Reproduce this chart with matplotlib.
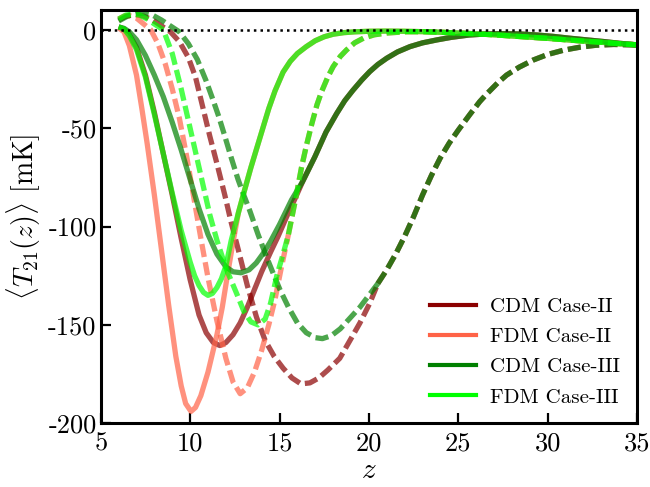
"""Mean 21-cm brightness temperature vs redshift for CDM/FDM, Case-II and Case-III."""

import numpy as np
import matplotlib
matplotlib.use("Agg")
import matplotlib.pyplot as plt
from matplotlib.lines import Line2D

plt.rcParams["font.family"] = "serif"
plt.rcParams["font.serif"] = ["cmr10"]
plt.rcParams["mathtext.fontset"] = "cm"
plt.rcParams["axes.unicode_minus"] = False
plt.rcParams["axes.formatter.use_mathtext"] = True

# shared high-z branches (curves lie on top of each other there)
z_cdm_solid_tail = [16.3, 16.98, 17.6, 18.2, 18.65, 19.1, 19.6, 20.05, 20.5, 21.0, 21.6, 22.3, 23.0,
                    23.8, 24.6, 25.6, 26.5, 27.5, 28.5, 29.4, 30.3, 31.2, 32.2, 33.1, 34.0, 35.0]
T_cdm_solid_tail = [-77, -64.5, -52, -42.5, -36, -30.8, -25.5, -21.2, -17.6, -14.4, -11.2, -8.5, -6.6,
                    -5.1, -3.8, -2.6, -2.1, -1.9, -2.1, -2.6, -3.3, -4.2, -5.1, -5.9, -6.8, -7.6]

z_cdm_dash_tail = [20.5, 21.0, 21.5, 22.0, 22.5, 23.0, 23.5, 24.0, 24.5, 25.0, 25.65, 26.2, 26.6,
                   27.2, 27.7, 28.4, 29.2, 30.0, 30.9, 31.8, 32.7, 33.7, 35.0]
T_cdm_dash_tail = [-129, -122, -114, -105, -95, -84, -74, -65, -57.5, -51, -43, -36.5, -32.5,
                   -27, -23, -19, -15.3, -12.5, -10.3, -8.8, -7.8, -7.4, -7.7]

z_fdm_solid_tail = [12.7, 13.0, 13.4, 13.8, 14.1, 14.4, 14.75, 15.2, 15.6, 16.0, 16.5, 17.0, 17.5, 18.0,
                    18.6, 19.2, 20.0, 21.0, 22.0, 23.0, 24.0, 25.0, 26.0, 27.0, 28.0, 29.0, 30.0, 31.0,
                    32.0, 33.0, 34.0, 35.0]
T_fdm_solid_tail = [-93, -83, -70, -58, -49, -40, -31, -21.5, -16, -12, -8.5, -5.5, -3.5, -2.2,
                    -1.4, -1.0, -0.7, -0.6, -0.7, -0.9, -1.2, -1.6, -2.0, -2.5, -3.1, -3.7, -4.3, -5.0,
                    -5.7, -6.3, -7.0, -7.6]

z_fdm_dash_tail = [15.5, 15.9, 16.23, 16.5, 16.8, 17.1, 17.35, 17.7, 18.0, 18.4, 18.75, 19.2, 19.7,
                   20.3, 21.0, 22.0, 23.0, 24.0, 25.0, 26.0, 27.0, 28.0, 29.0, 30.0, 31.0, 32.0, 33.0,
                   34.0, 35.0]
T_fdm_dash_tail = [-104, -86, -70, -59, -48, -38, -31.5, -24, -18.7, -13.5, -10.2, -6.6, -4.2,
                   -2.5, -1.6, -1.0, -0.9, -1.2, -1.6, -2.0, -2.5, -3.1, -3.7, -4.3, -5.0, -5.7, -6.3,
                   -7.0, -7.6]

# CDM Case-II
z_cdm2_solid = [6.0, 6.3, 6.6, 7.0, 7.5, 8.0, 8.5, 9.0, 9.5, 10.0, 10.5, 10.9, 11.3, 11.66, 12.0,
                12.4, 12.8, 13.2, 13.6, 14.0, 14.5, 14.92, 15.4, 15.86]
T_cdm2_solid = [1.5, 0.5, -2.5, -9, -23, -42, -63, -84, -106, -127, -145, -154, -159, -160.5, -159,
                -155, -149, -141, -132, -123, -113, -105, -95, -86]
z_cdm2_dash = [6.0, 6.4, 6.9, 7.4, 7.9, 8.4, 8.9, 9.4, 9.9, 10.3, 10.7, 11.1, 11.5, 11.94, 12.3,
               12.7, 13.2, 13.71, 14.2, 14.7, 15.2, 15.7, 16.2, 16.7, 17.2, 17.7, 18.37, 19.0, 19.5,
               20.05]
T_cdm2_dash = [5, 7, 7.8, 7, 5, 2, -1, -6, -14, -24, -39, -54, -68, -84, -98,
               -112, -130, -146, -158, -166, -172, -177, -180, -179.5, -177, -173, -167, -157, -149,
               -139]

# FDM Case-II
z_fdm2_solid = [6.0, 6.3, 6.6, 7.0, 7.3, 7.6, 8.0, 8.4, 8.8, 9.2, 9.5, 9.75, 10.05, 10.3, 10.6,
                11.0, 11.5, 11.8, 12.1, 12.4]
T_fdm2_solid = [1.0, -1, -8, -23, -40, -58, -84, -112, -140, -166, -181, -190, -194, -192, -186,
                -174, -155, -141, -124, -108]
z_fdm2_dash = [6.0, 6.3, 6.6, 7.0, 7.4, 7.8, 8.2, 8.6, 9.0, 9.4, 9.8, 10.2, 10.6, 11.0, 11.5, 12.0,
               12.4, 12.8, 13.2, 13.6, 14.0, 14.4, 14.75, 15.1]
T_fdm2_dash = [5.5, 7, 7.3, 6, 3, 0, -7, -17, -30, -45, -64, -85, -106, -126, -148, -167,
               -179, -185, -182, -174, -163, -150, -137, -121]

# CDM Case-III
z_cdm3_solid = [6.0, 6.3, 6.6, 7.0, 7.5, 8.0, 8.5, 9.0, 9.5, 10.0, 10.5, 11.0, 11.5, 12.0, 12.4,
                12.85, 13.3, 13.7, 14.1, 14.5, 15.0, 15.67]
T_cdm3_solid = [1.5, 0.8, -1, -5, -13, -23, -34, -47, -61, -76, -91, -104, -114, -120.5, -123,
                -123.5, -122, -118.5, -113.5, -107.5, -99, -86.5]
z_cdm3_dash = [6.0, 6.5, 7.0, 7.4, 7.9, 8.4, 8.9, 9.4, 9.9, 10.4, 10.9, 11.28, 11.6, 11.94, 12.3,
               12.68, 13.0, 13.34, 13.8, 14.3, 14.7, 15.02, 15.5, 16.0, 16.5, 17.0, 17.4, 17.9, 18.4,
               19.0, 19.5, 20.0]
T_cdm3_dash = [4.5, 7, 8.2, 8.5, 7.5, 5, 2, -1, -7, -15, -26, -35.6, -44, -54, -65,
               -76, -84, -92, -104, -116, -125, -132, -141, -149, -154, -156.5, -157, -155.5, -152,
               -146, -141, -135]

# FDM Case-III
z_fdm3_solid = [6.0, 6.3, 6.6, 7.0, 7.5, 8.0, 8.5, 9.0, 9.5, 10.0, 10.25, 10.5, 10.75, 11.0, 11.25,
                11.5, 11.75, 12.0, 12.3]
T_fdm3_solid = [1.5, 0.5, -3, -10, -24, -43, -63, -83, -102, -118, -125, -130, -133.5, -135, -134,
                -131, -126.5, -120, -107]
z_fdm3_dash = [6.0, 6.4, 6.8, 7.2, 7.6, 8.0, 8.5, 9.0, 9.5, 9.9, 10.3, 10.7, 11.1, 11.5, 12.0, 12.6,
               13.0, 13.4, 13.8, 14.2, 14.5, 14.85, 15.2]
T_fdm3_dash = [5.5, 7.5, 8.1, 7.5, 5.5, 3, 0, -12, -30, -46, -62, -78, -94, -107, -121, -134,
               -143, -148.5, -150, -147, -139, -125, -114]

labels = ["CDM Case-II", "FDM Case-II", "CDM Case-III", "FDM Case-III"]
colors = ["darkred", "tomato", "green", "lime"]

# (solid head, solid tail, dashed head, dashed tail) per model
curves = [
    ((z_cdm2_solid, T_cdm2_solid), (z_cdm_solid_tail, T_cdm_solid_tail),
     (z_cdm2_dash, T_cdm2_dash), (z_cdm_dash_tail, T_cdm_dash_tail)),
    ((z_fdm2_solid, T_fdm2_solid), (z_fdm_solid_tail, T_fdm_solid_tail),
     (z_fdm2_dash, T_fdm2_dash), (z_fdm_dash_tail, T_fdm_dash_tail)),
    ((z_cdm3_solid, T_cdm3_solid), (z_cdm_solid_tail, T_cdm_solid_tail),
     (z_cdm3_dash, T_cdm3_dash), (z_cdm_dash_tail, T_cdm_dash_tail)),
    ((z_fdm3_solid, T_fdm3_solid), (z_fdm_solid_tail, T_fdm_solid_tail),
     (z_fdm3_dash, T_fdm3_dash), (z_fdm_dash_tail, T_fdm_dash_tail)),
]

xticks = [5, 10, 15, 20, 25, 30, 35]
yticks = [-200, -150, -100, -50, 0]
ytick_labels = ["-200", "-150", "-100", "-50", "0"]

fig = plt.figure(figsize=(6.5, 4.87), dpi=100)
ax = fig.add_axes([0.155, 0.131, 0.825, 0.848])

lw = 3.8
dash = (0, (2.5, 1.0))
for (sh, st, dh, dt), c in zip(curves, colors):
    ax.plot(list(sh[0]) + list(st[0]), list(sh[1]) + list(st[1]),
            color=c, lw=lw, alpha=0.7, solid_capstyle="butt")
    # dashed head runs up to where the shared branch starts; shared branch drawn
    # separately so overlapping dashes stay in phase
    ax.plot(list(dh[0]) + [dt[0][0]], list(dh[1]) + [dt[1][0]], color=c, lw=lw, alpha=0.7, linestyle=dash)
    ax.plot(dt[0], dt[1], color=c, lw=lw, alpha=0.7, linestyle=dash)

ax.axhline(0, color="k", ls=":", lw=1.8, zorder=5)

ax.set_xlim(5, 35)
ax.set_ylim(-200, 10)
ax.set_xticks(xticks)
ax.set_xticklabels([str(t) for t in xticks])
ax.set_yticks(yticks)
ax.set_yticklabels(ytick_labels)
ax.tick_params(direction="in", length=7.5, width=1.6, labelsize=19)
ax.tick_params(axis="x", pad=6)
ax.tick_params(axis="y", pad=3)
for s in ax.spines.values():
    s.set_linewidth(2.2)

ax.set_xlabel(r"$z$", fontsize=21, labelpad=2)
ax.set_ylabel(r"$\langle T_{21}(z)\rangle$ [mK]", fontsize=20, labelpad=4)

handles = [Line2D([], [], color=c, lw=3) for c in colors]
ax.legend(handles, labels, loc="lower right", frameon=False, fontsize=15,
          handlelength=2.2, handletextpad=0.7, labelspacing=0.55, borderaxespad=0.4)

fig.savefig("out.png", dpi=100)
plt.close()
